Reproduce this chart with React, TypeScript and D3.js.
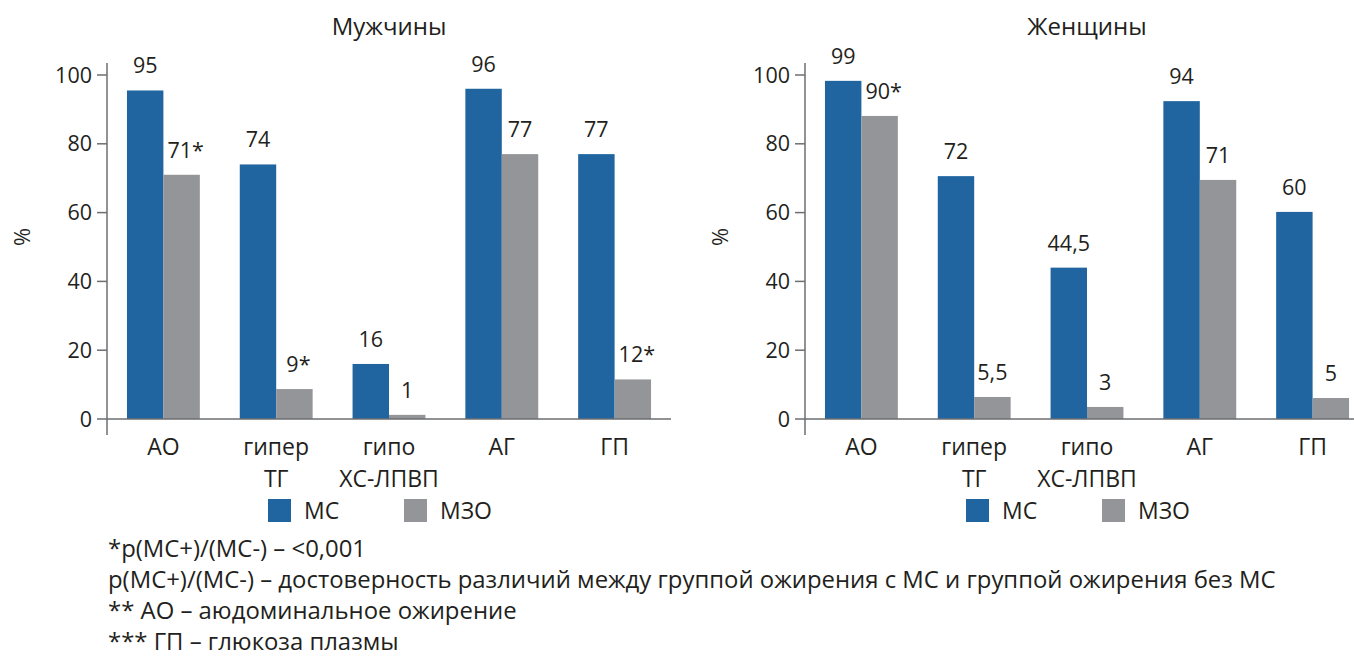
import React from "react";
import * as d3 from "d3";

const categories = [["АО"], ["гипер", "ТГ"], ["гипо", "ХС-ЛПВП"], ["АГ"], ["ГП"]];
const menMS = [95.5, 74, 16, 96, 77];
const menMZO = [71, 8.7, 1.2, 77, 11.5];
const menMSLabels = ["95", "74", "16", "96", "77"];
const menMZOLabels = ["71*", "9*", "1", "77", "12*"];
const womenMS = [98.3, 70.6, 44, 92.4, 60.2];
const womenMZO = [88.1, 6.4, 3.5, 69.5, 6.1];
const womenMSLabels = ["99", "72", "44,5", "94", "60"];
const womenMZOLabels = ["90*", "5,5", "3", "71", "5"];
const yTicks = [0, 20, 40, 60, 80, 100];
const seriesNames = ["МС", "МЗО"];
const footnotes = [
  "*p(МС+)/(МС-) – <0,001",
  "p(МС+)/(МС-) – достоверность различий между группой ожирения с МС и группой ожирения без МС",
  "** АО – аюдоминальное ожирение",
  "*** ГП – глюкоза плазмы",
];

const BLUE = "#2065a0";
const GRAY = "#939598";
const AXIS = "#6d6e71";
const TEXT = "#231f20";
const FONT = "'Open Sans', 'Noto Sans', sans-serif";

function Panel({ x0, x1, axisEnd, title, ms, mzo, msL, mzoL }: any) {
  const y = d3.scaleLinear().domain([0, 100]).range([419, 75]);
  const x = d3.scaleBand<number>().domain(d3.range(categories.length)).range([x0, x1]).paddingInner(0.354).paddingOuter(0.177);
  const bw = x.bandwidth() / 2;
  const numFs = 21.5;
  const catFs = 23;
  return (
    <g>
      <text x={(x0 + x1) / 2} y={35} textAnchor="middle" fontSize={24} fill={TEXT}>{title}</text>
      <text transform={`translate(${x0 - 86},237) rotate(-90)`} textAnchor="middle" dominantBaseline="central" fontSize={22} fill={TEXT}>%</text>
      {categories.map((c, i) => {
        const bx = x(i)!;
        return (
          <g key={i}>
            <rect x={bx} y={y(ms[i])} width={bw} height={y(0) - y(ms[i])} fill={BLUE} />
            <rect x={bx + bw} y={y(mzo[i])} width={bw} height={y(0) - y(mzo[i])} fill={GRAY} />
            <text x={bx + bw / 2 + (msL[i].includes("*") ? 4 : 0)} y={y(ms[i]) - 17} textAnchor="middle" fontSize={numFs} fill={TEXT}>{msL[i]}</text>
            <text x={bx + bw * 1.5 + (mzoL[i].includes("*") ? 4 : 0)} y={y(mzo[i]) - 17} textAnchor="middle" fontSize={numFs} fill={TEXT}>{mzoL[i]}</text>
            {c.map((line, j) => (
              <text key={j} x={bx + bw} y={455 + j * 32} textAnchor="middle" fontSize={catFs} fill={TEXT}>{line}</text>
            ))}
          </g>
        );
      })}
      <line x1={x0} x2={x0} y1={63} y2={435} stroke={AXIS} strokeWidth={1.5} />
      <line x1={x0} x2={axisEnd} y1={y(0)} y2={y(0)} stroke={AXIS} strokeWidth={1.5} />
      {yTicks.map((t) => (
        <g key={t}>
          <line x1={x0 - 10} x2={x0} y1={y(t)} y2={y(t)} stroke={AXIS} strokeWidth={1.5} />
          <text x={x0 - 15} y={y(t)} dy="0.35em" textAnchor="end" fontSize={numFs} fill={TEXT}>{t}</text>
        </g>
      ))}
      <rect x={x0 + 161} y={499} width={23} height={23} fill={BLUE} />
      <text x={x0 + 197} y={519} fontSize={catFs} fill={TEXT}>{seriesNames[0]}</text>
      <rect x={x0 + 297} y={499} width={23} height={23} fill={GRAY} />
      <text x={x0 + 333} y={519} fontSize={catFs} fill={TEXT}>{seriesNames[1]}</text>
    </g>
  );
}

export default function App() {
  return (
    <svg width={1354} height={658} style={{ position: "absolute", left: 0, top: 0, background: "#fff" }} fontFamily={FONT}>
      <rect width={1354} height={658} fill="#fff" />
      <Panel x0={107} x1={671} axisEnd={671} title="Мужчины" ms={menMS} mzo={menMZO} msL={menMSLabels} mzoL={menMZOLabels} />
      <Panel x0={805} x1={1369} axisEnd={1369} title="Женщины" ms={womenMS} mzo={womenMZO} msL={womenMSLabels} mzoL={womenMZOLabels} />
      {footnotes.map((f, i) => (
        <text key={i} x={108} y={557 + i * 31} fontSize={23.9} fill={TEXT}>{f}</text>
      ))}
    </svg>
  );
}
